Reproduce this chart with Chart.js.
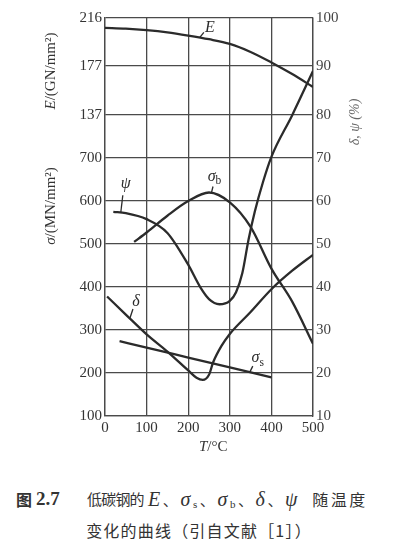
<!DOCTYPE html>
<html>
<head>
<meta charset="utf-8">
<script src="https://cdn.jsdelivr.net/npm/chart.js@4/dist/chart.umd.min.js"></script>
<style>
  body { margin: 0; background: #fff; }
  #wrap { position: absolute; left: 0; top: 0; width: 398px; height: 460px; }
  .row { position: absolute; left: 0; width: 398px; height: 20px; line-height: 20px; color: #333; }
  .row > span { position: absolute; top: 0; white-space: nowrap; }
  .cj { font-family: "Noto Sans CJK SC", sans-serif; font-size: 15px; }
  .gr { font-family: "Liberation Serif", serif; font-style: italic; font-size: 20px; }
  .gr sub { font-style: normal; font-size: 11px; vertical-align: -2px; }
  .row2 { position: absolute; left: 0; top: 520px; width: 398px; line-height: 20px; text-align: center; color: #333;
          font-family: "Noto Sans CJK SC", sans-serif; font-size: 16px; letter-spacing: 1.2px; }
</style>
</head>
<body>
<div id="wrap"><canvas id="chart" width="398" height="460"></canvas></div>
<div class="row" style="top:489px;">
  <span class="cj" style="left:16px;font-size:16px;font-weight:bold;">图</span>
  <span style="left:36px;font-family:'Liberation Serif',serif;font-weight:bold;font-size:19px;">2.7</span>
  <span class="cj" style="left:87px;letter-spacing:-0.8px;">低碳钢的</span>
  <span class="cj" style="left:148px;letter-spacing:2.6px;"><span class="gr">E</span>、<span class="gr">σ<sub>s</sub></span>、<span class="gr">σ<sub>b</sub></span>、<span class="gr">δ</span>、<span class="gr">ψ</span><span style="display:inline-block;width:12px;"></span><span style="font-size:16px;">随温度</span></span>
</div>
<div class="row2">变化的曲线（引自文献［1］）</div>
<script>
// temperature, °C
const tempTicks = [0, 100, 200, 300, 400, 500];
// left axis: σ in MN/mm², E in GN/mm² (upper three lines)
const sigmaTicks = [100, 200, 300, 400, 500, 600, 700];
const eTickLabels = [137, 177, 216];
// right axis: δ, ψ in %
const pctTicks = [10, 20, 30, 40, 50, 60, 70, 80, 90, 100];

const eTemp = [0, 50, 100, 150, 200, 250, 300, 350, 400, 450, 500];
const eValues = [208, 207.4, 206.2, 204.4, 201.8, 198.8, 195, 188.5, 180, 170.5, 160];

const sbTemp = [70, 100, 150, 200, 250, 300, 350, 400, 450, 500];
const sbValues = [505, 527, 566, 600, 620, 597, 540, 443, 366, 268];

const ssTemp = [35, 100, 200, 300, 400];
const ssValues = [274, 259, 236, 213, 190];

const psiTemp = [20, 50, 100, 150, 200, 230, 250, 275, 300, 315, 330, 345, 360, 380, 400, 450, 500];
const psiValues = [57.5, 57.2, 55.8, 52.6, 45.2, 39.8, 37.2, 36, 36.8, 38.8, 43.2, 51, 57.5, 64.5, 70.3, 80, 89];

const deltaTemp = [5, 50, 100, 150, 200, 220, 235, 250, 260, 280, 300, 350, 400, 450, 500];
const deltaValues = [37.8, 33.6, 29.0, 25.0, 20.6, 18.9, 18.4, 19.6, 22.5, 26.3, 29.1, 34.2, 39.5, 43.8, 47.5];

// the printed grid is stretched in its top two bands: the E lines (and 90/100 %)
// sit a bit further apart than the σ lines below them
const eAxisPos = [800, 914, 1026];
const pctAxisPos = [80, 91.4, 102.6];

function piece(v, from, to) {
  if (v <= from[0]) return to[0] + (v - from[0]) * (to[1] - to[0]) / (from[1] - from[0]);
  for (let i = 1; i < from.length; i++) {
    if (v <= from[i] || i === from.length - 1)
      return to[i - 1] + (v - from[i - 1]) / (from[i] - from[i - 1]) * (to[i] - to[i - 1]);
  }
}
const eToAxis = e => piece(e, eTickLabels, eAxisPos);
const pctToAxis = p => p <= 80 ? p : piece(p, [80, 90, 100], pctAxisPos);

const ink = '#2b2b2b';
const pts = (xs, ys, f) => xs.map((t, i) => ({ x: t, y: f ? f(ys[i]) : ys[i] }));
const line = (data, axis) => ({
  data, yAxisID: axis, borderColor: ink, borderWidth: 2.3, pointRadius: 0,
  fill: false, cubicInterpolationMode: 'monotone'
});

const serif = '"Liberation Serif", serif';

function drawSub(ctx, x, y, main, sub, size) {
  ctx.font = 'italic ' + size + 'px ' + serif;
  const w = ctx.measureText(main).width;
  ctx.font = (size * 0.72) + 'px ' + serif;
  const ws = sub ? ctx.measureText(sub).width : 0;
  const x0 = x - (w + ws) / 2;
  ctx.textAlign = 'left';
  ctx.textBaseline = 'middle';
  ctx.font = 'italic ' + size + 'px ' + serif;
  ctx.fillText(main, x0, y);
  if (sub) {
    ctx.font = (size * 0.72) + 'px ' + serif;
    ctx.fillText(sub, x0 + w, y + size * 0.28);
  }
}

// curve labels: anchor on curve (data), leader end and text offsets (px)
const curveLabels = [
  { main: 'E', sub: '', t: 228, v: eToAxis(200.3), axis: 'yL', lx: 4, ly: -5, tx: 10, ty: -10 },
  { main: 'ψ', sub: '', t: 38, v: 57.4, axis: 'y', lx: 2, ly: -17, tx: 5, ty: -28 },
  { main: 'σ', sub: 'b', t: 256, v: 620, axis: 'yL', lx: 1.5, ly: -6, tx: 3, ty: -16 },
  { main: 'δ', sub: '', t: 60, v: 32.8, axis: 'y', lx: 3, ly: -9, tx: 6, ty: -16 },
  { main: 'σ', sub: 's', t: 348, v: 202, axis: 'yL', lx: 3, ly: -6, tx: 8, ty: -14 }
];

const decor = {
  id: 'decor',
  afterDatasetsDraw(chart) {
    const ctx = chart.ctx;
    const sx = chart.scales.x;
    ctx.save();
    ctx.fillStyle = ink;
    ctx.strokeStyle = ink;
    ctx.lineWidth = 1.3;
    curveLabels.forEach(l => {
      const px = sx.getPixelForValue(l.t);
      const py = chart.scales[l.axis].getPixelForValue(l.v);
      ctx.beginPath();
      ctx.moveTo(px, py);
      ctx.lineTo(px + l.lx, py + l.ly);
      ctx.stroke();
      drawSub(ctx, px + l.tx, py + l.ty, l.main, l.sub, 16);
    });

    // axis titles
    ctx.fillStyle = '#333';
    ctx.textBaseline = 'middle';
    const vtitle = (cx, cy, it, rest) => {
      ctx.save();
      ctx.translate(cx, cy);
      ctx.rotate(-Math.PI / 2);
      ctx.font = 'italic 15px ' + serif;
      const a = ctx.measureText(it).width;
      ctx.font = '15px ' + serif;
      const b = ctx.measureText(rest).width;
      ctx.textAlign = 'left';
      ctx.font = 'italic 15px ' + serif;
      ctx.fillText(it, -(a + b) / 2, 0);
      ctx.font = '15px ' + serif;
      ctx.fillText(rest, -(a + b) / 2 + a, 0);
      ctx.restore();
    };
    vtitle(51, 71, 'E', '/(GN/mm²)');
    vtitle(51, 206, 'σ', '/(MN/mm²)');

    ctx.save();
    ctx.fillStyle = '#666';
    ctx.translate(355, 122);
    ctx.rotate(-Math.PI / 2);
    ctx.textAlign = 'center';
    ctx.font = 'italic 14px ' + serif;
    ctx.fillText('δ, ψ (%)', 0, 0);
    ctx.restore();

    ctx.textAlign = 'left';
    ctx.font = 'italic 15px ' + serif;
    const tw = ctx.measureText('T').width;
    ctx.fillText('T', 199, 447);
    ctx.font = '15px ' + serif;
    ctx.fillText('/°C', 199 + tw, 447);
    ctx.restore();
  }
};

const tickFont = { family: serif, size: 15 };
const gridColor = '#4a4a4a';

new Chart(document.getElementById('chart'), {
  type: 'line',
  data: {
    datasets: [
      line(pts(eTemp, eValues, eToAxis), 'yL'),
      line(pts(sbTemp, sbValues), 'yL'),
      line(pts(ssTemp, ssValues), 'yL'),
      line(pts(psiTemp, psiValues, pctToAxis), 'y'),
      line(pts(deltaTemp, deltaValues, pctToAxis), 'y')
    ]
  },
  options: {
    responsive: false,
    animation: false,
    layout: { padding: { top: 18, left: 0, right: 0, bottom: 0 }, autoPadding: false },
    plugins: { legend: { display: false }, tooltip: { enabled: false } },
    scales: {
      x: {
        type: 'linear', min: tempTicks[0], max: tempTicks[tempTicks.length - 1],
        afterBuildTicks: s => { s.ticks = tempTicks.map(v => ({ value: v })); },
        afterFit: s => { s.height = 44; },
        grid: { color: gridColor, lineWidth: 1.3, drawTicks: false },
        border: { color: gridColor, width: 1.3 },
        ticks: { font: tickFont, color: '#333', padding: 3, maxRotation: 0 }
      },
      yL: {
        type: 'linear', position: 'left', min: 100, max: eAxisPos[2],
        afterBuildTicks: s => {
          s.ticks = sigmaTicks.concat(eAxisPos).map(v => ({ value: v }));
        },
        afterFit: s => { s.width = 105; },
        grid: { color: gridColor, lineWidth: 1.3, drawTicks: false },
        border: { color: gridColor, width: 1.3 },
        ticks: {
          font: tickFont, color: '#333', padding: 3,
          callback: v => v <= 700 ? v : eTickLabels[eAxisPos.indexOf(v)]
        }
      },
      y: {
        type: 'linear', position: 'right', min: 10, max: pctAxisPos[2],
        afterBuildTicks: s => { s.ticks = pctTicks.map(v => ({ value: pctToAxis(v) })); },
        afterFit: s => { s.width = 85; },
        grid: { display: false, drawTicks: false },
        border: { color: gridColor, width: 1.3 },
        ticks: {
          font: tickFont, color: '#444', padding: 3,
          callback: (v, i) => pctTicks[i]
        }
      }
    }
  },
  plugins: [decor]
});
</script>
</body>
</html>
